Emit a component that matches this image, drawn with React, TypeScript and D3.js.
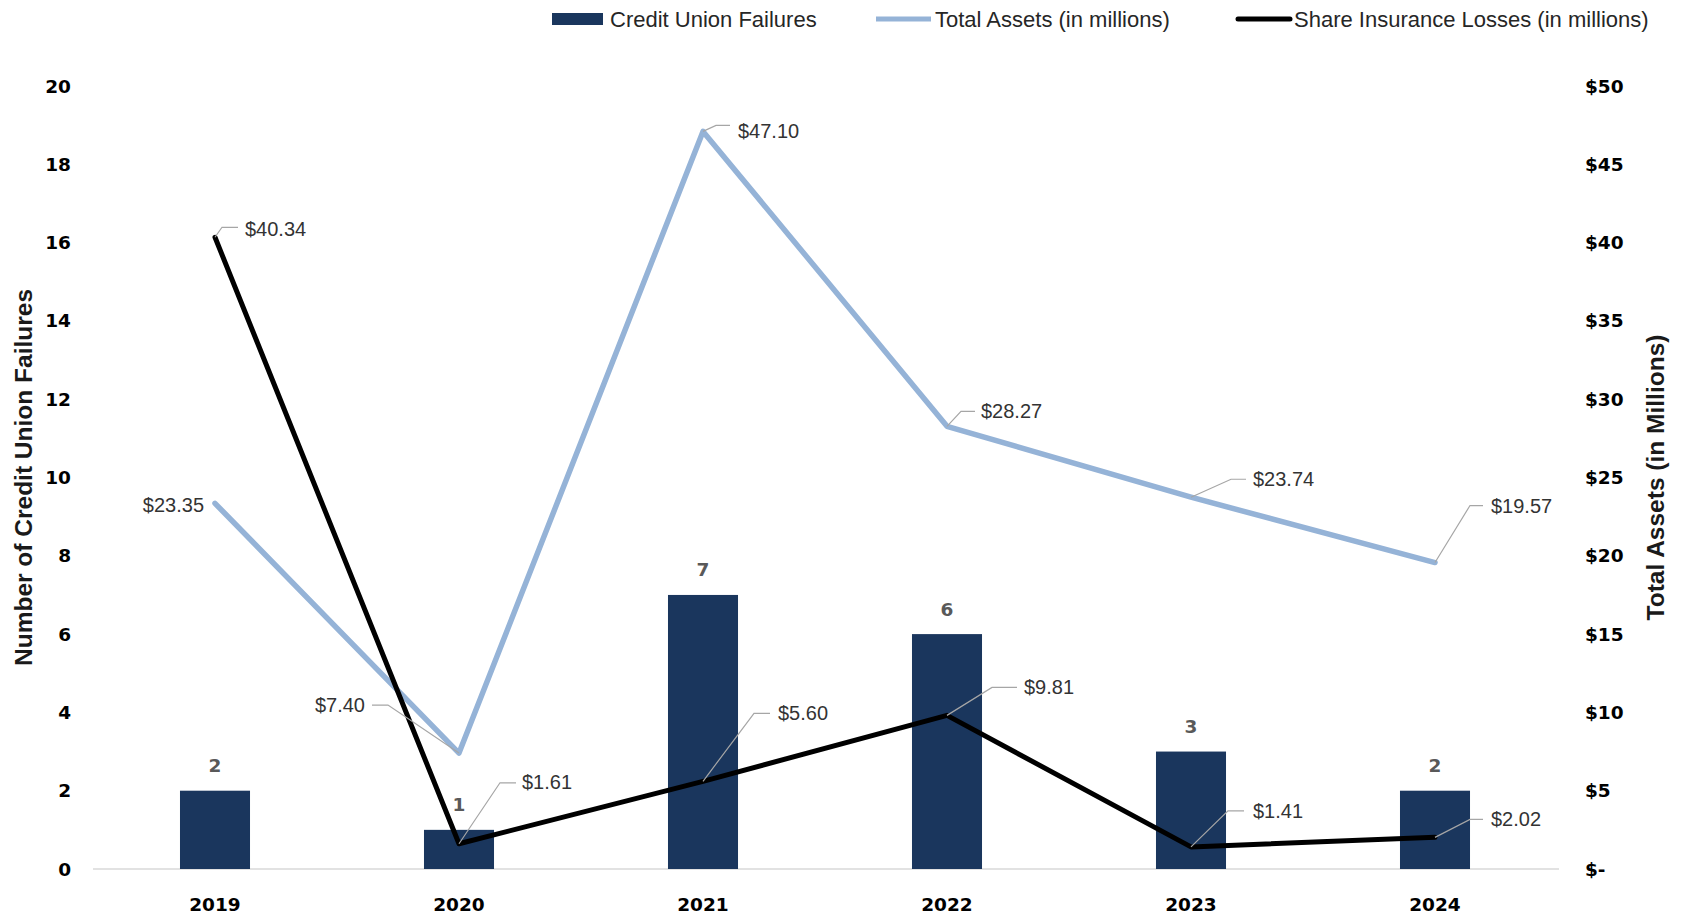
import React from 'react';
import * as d3 from 'd3';

const years = ['2019', '2020', '2021', '2022', '2023', '2024'];
const failures = [2, 1, 7, 6, 3, 2];
const totalAssets = [23.35, 7.4, 47.1, 28.27, 23.74, 19.57];
const shareLosses = [40.34, 1.61, 5.6, 9.81, 1.41, 2.02];
const leftTicks = [0, 2, 4, 6, 8, 10, 12, 14, 16, 18, 20];
const rightTicks = [0, 5, 10, 15, 20, 25, 30, 35, 40, 45, 50];

// label layout offsets relative to data point
type Lab = { tx: number; ty: number; anchor: string; leader?: [number, number, number, number] };
const assetLabels: Lab[] = [
  { tx: -11, ty: 2, anchor: 'end' },
  { tx: -94, ty: -48, anchor: 'end', leader: [-71, -48, -87, -48] },
  { tx: 35, ty: 0, anchor: 'start', leader: [13, -6, 27, -6] },
  { tx: 34, ty: -15, anchor: 'start', leader: [14, -15, 28, -15] },
  { tx: 62, ty: -18, anchor: 'start', leader: [40, -18, 55, -18] },
  { tx: 56, ty: -57, anchor: 'start', leader: [35, -57, 48, -57] },
];
const lossLabels: Lab[] = [
  { tx: 30, ty: -8, anchor: 'start', leader: [7, -10, 23, -10] },
  { tx: 63, ty: -62, anchor: 'start', leader: [41, -61, 57, -61] },
  { tx: 75, ty: -68, anchor: 'start', leader: [51, -68, 67, -68] },
  { tx: 77, ty: -28, anchor: 'start', leader: [45, -28, 70, -28] },
  { tx: 62, ty: -36, anchor: 'start', leader: [37, -36, 53, -36] },
  { tx: 56, ty: -18, anchor: 'start', leader: [35, -18, 48, -18] },
];

const W = 1682;
const H = 915;
const plotLeft = 93;
const plotRight = 1557;
const plotTop = 86;
const plotBottom = 869;

const BAR = '#1a365d';
const BLUE = '#95b3d7';
const BLACK = '#000000';
const tickFont = '"DejaVu Sans", Verdana, sans-serif';
const labelFont = '"Liberation Sans", Arial, sans-serif';

export default function App() {
  const x = d3.scaleBand<string>().domain(years).range([plotLeft, plotRight]).padding(0);
  const yL = d3.scaleLinear().domain([0, 20]).range([plotBottom, plotTop]);
  const yR = d3.scaleLinear().domain([0, 50]).range([plotBottom, plotTop]);
  const cx = (y: string) => (x(y) as number) + x.bandwidth() / 2;
  const barW = x.bandwidth() * 0.287;

  const line = d3
    .line<number>()
    .x((_, i) => cx(years[i]))
    .y((d) => yR(d));

  const fmt = (v: number) => '$' + v.toFixed(2);

  const renderLabels = (vals: number[], labs: Lab[], key: string) =>
    vals.map((v, i) => {
      const px = cx(years[i]);
      const py = yR(v);
      const l = labs[i];
      return (
        <g key={key + i}>
          {l.leader && (
            <polyline
              points={`${px},${py} ${px + l.leader[0]},${py + l.leader[1]} ${px + l.leader[2]},${py + l.leader[3]}`}
              fill="none"
              stroke="#a6a6a6"
              strokeWidth={1.2}
            />
          )}
          <text
            x={px + l.tx}
            y={py + l.ty}
            textAnchor={l.anchor as any}
            dominantBaseline="central"
            fontFamily={labelFont}
            fontSize={20}
            fill="#333333"
          >
            {fmt(v)}
          </text>
        </g>
      );
    });

  return (
    <svg width={W} height={H} style={{ position: 'absolute', left: 0, top: 0, background: '#fff' }}>
      {/* legend */}
      <g fontFamily={labelFont} fontSize={22} fill="#262626">
        <rect x={552} y={13} width={51} height={12} fill={BAR} />
        <text x={610} y={19} dominantBaseline="central">Credit Union Failures</text>
        <line x1={876} x2={931} y1={19} y2={19} stroke={BLUE} strokeWidth={5} />
        <text x={935} y={19} dominantBaseline="central">Total Assets (in millions)</text>
        <line x1={1238} x2={1290} y1={19} y2={19} stroke={BLACK} strokeWidth={5} strokeLinecap="round" />
        <text x={1294} y={19} dominantBaseline="central">Share Insurance Losses (in millions)</text>
      </g>

      {/* axis line */}
      <line x1={plotLeft} x2={plotRight + 2} y1={plotBottom} y2={plotBottom} stroke="#d9d9d9" strokeWidth={1.5} />

      {/* ticks */}
      <g fontFamily={tickFont} fontWeight="bold" fontSize={18.5} fill="#000">
        {leftTicks.map((t) => (
          <text key={'l' + t} x={71} y={yL(t)} textAnchor="end" dominantBaseline="central">
            {t}
          </text>
        ))}
        {rightTicks.map((t) => (
          <text key={'r' + t} x={1585} y={yR(t)} textAnchor="start" dominantBaseline="central">
            {t === 0 ? '$-' : '$' + t}
          </text>
        ))}
        {years.map((y) => (
          <text key={'x' + y} x={cx(y)} y={904} textAnchor="middle" dominantBaseline="central">
            {y}
          </text>
        ))}
      </g>

      {/* axis titles */}
      <text
        transform={`translate(23, ${(plotTop + plotBottom) / 2}) rotate(-90)`}
        textAnchor="middle"
        dominantBaseline="central"
        fontFamily={labelFont}
        fontWeight="bold"
        fontSize={24.5}
        fill="#1a1a1a"
      >
        Number of Credit Union Failures
      </text>
      <text
        transform={`translate(1655, ${(plotTop + plotBottom) / 2}) rotate(-90)`}
        textAnchor="middle"
        dominantBaseline="central"
        fontFamily={labelFont}
        fontWeight="bold"
        fontSize={24.5}
        fill="#1a1a1a"
      >
        Total Assets (in Millions)
      </text>

      {/* bars */}
      {failures.map((v, i) => (
        <rect
          key={'b' + i}
          x={cx(years[i]) - barW / 2}
          y={yL(v)}
          width={barW}
          height={yL(0) - yL(v)}
          fill={BAR}
        />
      ))}
      {failures.map((v, i) => (
        <text
          key={'bl' + i}
          x={cx(years[i])}
          y={yL(v) - 25}
          textAnchor="middle"
          dominantBaseline="central"
          fontFamily={tickFont}
          fontWeight="bold"
          fontSize={18.5}
          fill="#595959"
        >
          {v}
        </text>
      ))}

      {/* lines */}
      <path d={line(totalAssets) || ''} fill="none" stroke={BLUE} strokeWidth={5.5} strokeLinejoin="round" strokeLinecap="round" />
      <path d={line(shareLosses) || ''} fill="none" stroke={BLACK} strokeWidth={5} strokeLinejoin="round" strokeLinecap="round" />

      {renderLabels(totalAssets, assetLabels, 'a')}
      {renderLabels(shareLosses, lossLabels, 's')}
    </svg>
  );
}
